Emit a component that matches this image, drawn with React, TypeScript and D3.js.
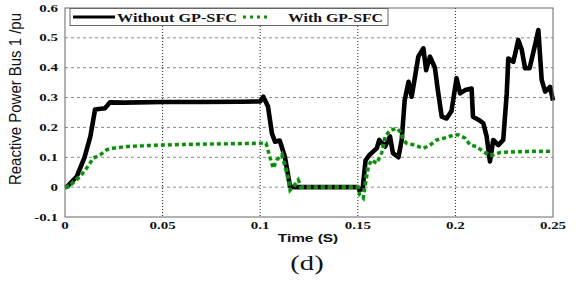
import * as d3 from "d3";

// Without GP-SFC (black)
const tWithout = [0, 0.001, 0.006, 0.010, 0.013, 0.0154, 0.0205, 0.023, 0.03, 0.05, 0.07, 0.09, 0.1, 0.1016, 0.104, 0.106, 0.1076, 0.110, 0.1127, 0.1153, 0.118, 0.15, 0.151, 0.1525, 0.154, 0.156, 0.1597, 0.161, 0.164, 0.1665, 0.168, 0.1708, 0.1725, 0.174, 0.176, 0.1776, 0.179, 0.181, 0.1836, 0.185, 0.187, 0.1895, 0.191, 0.193, 0.1955, 0.198, 0.2006, 0.2024, 0.205, 0.2083, 0.209, 0.212, 0.2143, 0.216, 0.2177, 0.2194, 0.222, 0.2245, 0.2263, 0.2271, 0.2297, 0.2322, 0.234, 0.2357, 0.238, 0.2408, 0.2425, 0.2442, 0.246, 0.2485, 0.25];
const qWithout = [0, 0.001, 0.035, 0.10, 0.17, 0.26, 0.264, 0.284, 0.283, 0.285, 0.285, 0.286, 0.287, 0.303, 0.27, 0.18, 0.152, 0.156, 0.10, 0.002, 0, 0, -0.01, -0.005, 0.09, 0.108, 0.13, 0.158, 0.136, 0.17, 0.114, 0.10, 0.158, 0.29, 0.353, 0.303, 0.358, 0.437, 0.465, 0.392, 0.437, 0.40, 0.325, 0.236, 0.23, 0.255, 0.365, 0.314, 0.325, 0.33, 0.236, 0.225, 0.214, 0.17, 0.086, 0.158, 0.141, 0.158, 0.314, 0.431, 0.42, 0.493, 0.46, 0.398, 0.398, 0.476, 0.526, 0.359, 0.32, 0.336, 0.29];

// With GP-SFC (green dotted)
const tWith = [0, 0.002, 0.0077, 0.011, 0.0145, 0.018, 0.0214, 0.024, 0.0316, 0.0487, 0.069, 0.09, 0.1, 0.103, 0.105, 0.1067, 0.1085, 0.111, 0.1127, 0.1144, 0.1153, 0.117, 0.1195, 0.121, 0.15, 0.151, 0.1528, 0.1537, 0.1554, 0.157, 0.1597, 0.1622, 0.164, 0.1665, 0.17, 0.1725, 0.1733, 0.175, 0.179, 0.1836, 0.187, 0.1904, 0.194, 0.197, 0.1998, 0.2015, 0.205, 0.2075, 0.2109, 0.2143, 0.2169, 0.2194, 0.2228, 0.228, 0.24, 0.25];
const qWith = [0, 0.002, 0.035, 0.063, 0.097, 0.108, 0.125, 0.13, 0.136, 0.141, 0.144, 0.146, 0.147, 0.147, 0.10, 0.063, 0.091, 0.108, 0.069, 0.024, -0.01, 0.002, 0.024, 0, 0, -0.026, -0.037, 0.002, 0.069, 0.091, 0.08, 0.114, 0.17, 0.19, 0.197, 0.18, 0.158, 0.147, 0.141, 0.13, 0.141, 0.158, 0.164, 0.17, 0.175, 0.175, 0.164, 0.141, 0.136, 0.119, 0.108, 0.108, 0.116, 0.118, 0.12, 0.12];

const xTicks = [0, 0.05, 0.1, 0.15, 0.2, 0.25];
const xTickLabels = ["0", "0.05", "0.1", "0.15", "0.2", "0.25"];
const yTicks = [-0.1, 0, 0.1, 0.2, 0.3, 0.4, 0.5, 0.6];
const yTickLabels = ["-0.1", "0", "0.1", "0.2", "0.3", "0.4", "0.5", "0.6"];

export default function App() {
  const width = 581;
  const height = 284;
  const left = 65, right = 553, top = 8, bottom = 217;

  const x = d3.scaleLinear().domain([0, 0.25]).range([left, right]);
  const y = d3.scaleLinear().domain([-0.1, 0.6]).range([bottom, top]);

  const line = d3.line<[number, number]>().x((d) => x(d[0])).y((d) => y(d[1]));
  const blackPath = line(tWithout.map((t, i) => [t, qWithout[i]]));
  const greenPath = line(tWith.map((t, i) => [t, qWith[i]]));

  const serif = "'Liberation Serif', 'Times New Roman', serif";
  const sans = "'Liberation Sans', Arial, sans-serif";

  return (
    <svg width={width} height={height} style={{ position: "absolute", left: 0, top: 0, background: "#fff" }}>
      {/* grid */}
      {yTicks.slice(1, -1).map((v) => (
        <line key={"gy" + v} x1={left} x2={right} y1={y(v)} y2={y(v)} stroke="#8a8a8a" strokeWidth={1} strokeDasharray="3,3" />
      ))}
      {xTicks.slice(1, -1).map((v) => (
        <line key={"gx" + v} x1={x(v)} x2={x(v)} y1={top} y2={bottom} stroke="#222" strokeWidth={1} strokeDasharray="1,2" />
      ))}

      {/* data */}
      <path d={blackPath ?? ""} fill="none" stroke="#000" strokeWidth={4.6} strokeLinejoin="round" />
      <path d={greenPath ?? ""} fill="none" stroke="#77e36a" strokeWidth={4.5} strokeDasharray="4,3" opacity={0.55} />
      <path d={greenPath ?? ""} fill="none" stroke="#0f8a12" strokeWidth={3.2} strokeDasharray="4,3" />

      {/* frame */}
      <rect x={left} y={top} width={right - left} height={bottom - top} fill="none" stroke="#666" strokeWidth={1} />

      {/* tick labels */}
      {xTicks.map((v, i) => (
        <text key={"xl" + v} transform={`translate(${x(v)},229) scale(1.5,1)`} textAnchor="middle" fontFamily={serif} fontWeight="bold" fontSize={10} fill="#111">
          {xTickLabels[i]}
        </text>
      ))}
      {yTicks.map((v, i) => (
        <text key={"yl" + v} transform={`translate(58,${y(v) + 3.5}) scale(1.5,1)`} textAnchor="end" fontFamily={serif} fontWeight="bold" fontSize={10} fill="#111">
          {yTickLabels[i]}
        </text>
      ))}

      {/* axis labels */}
      <text transform="translate(308,242) scale(1.4,1)" textAnchor="middle" fontFamily={sans} fontWeight="bold" fontSize={11} fill="#111">
        Time (S)
      </text>
      <text transform="translate(21,99) rotate(-90) scale(1,1.3)" textAnchor="middle" fontFamily={sans} fontSize={13} fill="#111" textLength={172} lengthAdjust="spacingAndGlyphs">
        Reactive Power Bus 1 /pu
      </text>
      <text transform="translate(307,270) scale(1.3,1)" textAnchor="middle" fontFamily={serif} fontSize={22} fill="#111">
        (d)
      </text>

      {/* legend */}
      <rect x={70} y={8.5} width={318} height={17} fill="#fff" stroke="#666" strokeWidth={1} />
      <line x1={73} x2={115} y1={17} y2={17} stroke="#000" strokeWidth={3} />
      <text x={117} y={22} fontFamily={serif} fontWeight="bold" fontSize={13} fill="#111" textLength={120} lengthAdjust="spacingAndGlyphs">
        Without GP-SFC
      </text>
      <line x1={243} x2={271} y1={17} y2={17} stroke="#0f8a12" strokeWidth={3} strokeDasharray="3,4" />
      <text x={288} y={22} fontFamily={serif} fontWeight="bold" fontSize={13} fill="#111" textLength={95} lengthAdjust="spacingAndGlyphs">
        With GP-SFC
      </text>
    </svg>
  );
}
